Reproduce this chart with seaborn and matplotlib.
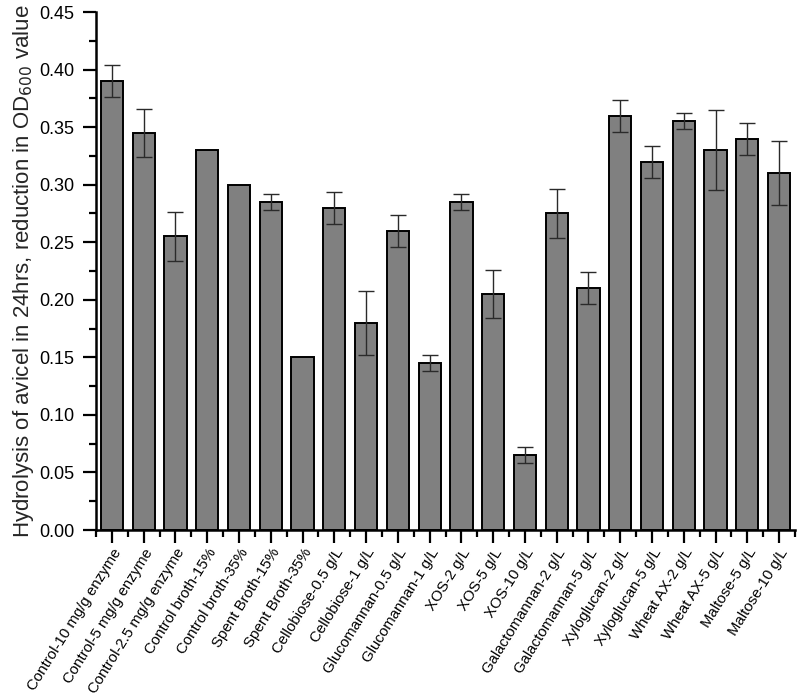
import numpy as np
import matplotlib
matplotlib.use("Agg")
import matplotlib.pyplot as plt
import seaborn as sns
from matplotlib.ticker import MultipleLocator, AutoMinorLocator, FormatStrFormatter

# --- data
labels = ["Control-10 mg/g enzyme", "Control-5 mg/g enzyme", "Control-2.5 mg/g enzyme",
          "Control broth-15%", "Control broth-35%", "Spent Broth-15%", "Spent Broth-35%",
          "Cellobiose-0.5 g/L", "Cellobiose-1 g/L", "Glucomannan-0.5 g/L", "Glucomannan-1 g/L",
          "XOS-2 g/L", "XOS-5 g/L", "XOS-10 g/L", "Galactomannan-2 g/L", "Galactomannan-5 g/L",
          "Xyloglucan-2 g/L", "Xyloglucan-5 g/L", "Wheat AX-2 g/L", "Wheat AX-5 g/L",
          "Maltose-5 g/L", "Maltose-10 g/L"]
values = [0.39, 0.345, 0.255, 0.33, 0.30, 0.285, 0.15, 0.28, 0.18, 0.26, 0.145,
          0.285, 0.205, 0.065, 0.275, 0.21, 0.36, 0.32, 0.355, 0.33, 0.34, 0.31]
errors = [0.014, 0.021, 0.021, np.nan, np.nan, 0.007, np.nan, 0.014, 0.028, 0.014, 0.007,
          0.007, 0.021, 0.007, 0.021, 0.014, 0.014, 0.014, 0.007, 0.035, 0.014, 0.028]

sns.set_style("ticks")
plt.rcParams["font.family"] = ["Liberation Sans", "DejaVu Sans"]

fig = plt.figure(figsize=(7.97, 6.95), dpi=100)
ax = fig.add_axes([0.1205, 0.2374, 0.877, 0.7453])

sns.barplot(x=labels, y=values, color="#808080", saturation=1, width=0.7,
            edgecolor="black", linewidth=1.4, ax=ax)

# error bars (only where there is one)
pos = np.arange(len(labels))
err = np.array(errors)
ok = ~np.isnan(err)
ax.errorbar(pos[ok], np.array(values)[ok], yerr=err[ok], fmt="none",
            ecolor="#2a2a2a", elinewidth=1.0, capsize=6, capthick=1.0)

ax.set_xlim(-0.5, len(labels) - 0.5)
ax.set_ylim(0, 0.45)
ax.yaxis.set_major_locator(MultipleLocator(0.05))
ax.yaxis.set_minor_locator(AutoMinorLocator(2))
ax.xaxis.set_minor_locator(MultipleLocator(0.5))
ax.yaxis.set_major_formatter(FormatStrFormatter("%.2f"))

ax.tick_params(axis="both", which="major", direction="out", length=9.5, width=1.6,
               color="black", labelcolor="black")
ax.tick_params(axis="both", which="minor", direction="out", length=5, width=1.6,
               color="black")
ax.tick_params(axis="y", labelsize=13, pad=6)
ax.tick_params(axis="x", labelsize=10.8, pad=2)

plt.setp(ax.get_xticklabels(), rotation=58, ha="right", rotation_mode="anchor")

for side in ["left", "bottom"]:
    ax.spines[side].set_linewidth(1.8)
    ax.spines[side].set_color("black")
sns.despine(ax=ax)

ax.set_xlabel("")
ax.set_ylabel("Hydrolysis of avicel in 24hrs, reduction in OD$_{600}$ value",
              fontsize=16, labelpad=2)

fig.savefig("out.png", dpi=100)
